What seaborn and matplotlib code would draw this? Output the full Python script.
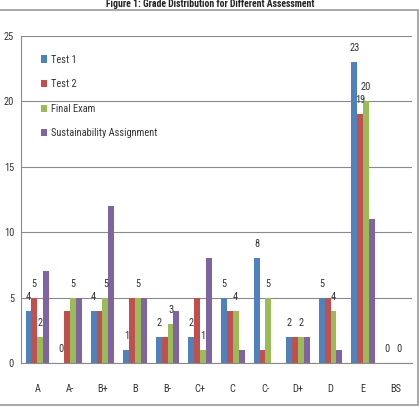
import pandas as pd
import numpy as np
import matplotlib
matplotlib.use("Agg")
import matplotlib.pyplot as plt
import seaborn as sns
from matplotlib import font_manager
from matplotlib.patches import Rectangle
from matplotlib.ticker import FixedLocator

# Grade categories and counts per assessment
grades = ['A', 'A-', 'B+', 'B', 'B-', 'C+', 'C', 'C-', 'D+', 'D', 'E', 'BS']
test1 = [4, 0, 4, 1, 2, 2, 5, 8, 2, 5, 23, 0]
test2 = [5, 4, 4, 5, 2, 5, 4, 1, 2, 5, 19, 0]
final_exam = [2, 5, 5, 5, 3, 1, 4, 5, 2, 4, 20, 0]
sustain = [7, 5, 12, 5, 4, 8, 1, 0, 2, 1, 11, 0]
series_names = ['Test 1', 'Test 2', 'Final Exam', 'Sustainability Assignment']
colors = ['#4F81BD', '#C0504D', '#9BBB59', '#8064A2']
y_ticks = [0, 5, 10, 15, 20, 25]

# which bars carry a data label in the original
labelled = {
    'Test 1': grades,
    'Test 2': ['A', 'E'],
    'Final Exam': grades,
    'Sustainability Assignment': [],
}

sns.set_style("white")

# pick a narrow face if one is installed (the original uses Calibri)
installed = {f.name for f in font_manager.fontManager.ttflist}
narrow = [f for f in ['Liberation Sans Narrow', 'DejaVu Sans Condensed',
                      'Roboto Condensed', 'Open Sans Condensed'] if f in installed]
plt.rcParams['font.family'] = narrow + ['Liberation Sans', 'DejaVu Sans']
if narrow:
    fs = 7.5
else:
    plt.rcParams['font.stretch'] = 'condensed'
    fs = 7

df = pd.DataFrame({
    'Grade': grades * 4,
    'Assessment': np.repeat(series_names, len(grades)),
    'Count': test1 + test2 + final_exam + sustain,
})

fig = plt.figure(figsize=(4.2, 4.12), dpi=100)
ax = fig.add_axes([0.05, 0.119, 0.931, 0.794])

sns.barplot(data=df, x='Grade', y='Count', hue='Assessment', order=grades,
            hue_order=series_names, palette=colors, width=0.72, gap=0,
            linewidth=0, saturation=1, ax=ax)

# data labels above bars
for name, cont in zip(series_names, ax.containers):
    for g, bar in zip(grades, cont):
        if g in labelled[name]:
            h = bar.get_height()
            ax.annotate(f"{int(h)}", (bar.get_x() + bar.get_width() / 2, h),
                        xytext=(0, 10), textcoords='offset points',
                        ha='center', va='center', fontsize=fs, color='#333333')

ax.set_ylim(0, 25)
ax.set_xlim(-0.5, len(grades) - 0.5)
ax.set_yticks(y_ticks)
ax.yaxis.grid(True, color='#8a8a8a', linewidth=0.8)
ax.set_axisbelow(True)
ax.set_xlabel('')
ax.set_ylabel('')

for s in ['top', 'right']:
    ax.spines[s].set_visible(False)
for s in ['left', 'bottom']:
    ax.spines[s].set_color('#8a8a8a')
    ax.spines[s].set_linewidth(0.8)

ax.tick_params(axis='y', length=3, color='#8a8a8a', labelsize=fs,
               labelcolor='#333333', pad=2)
ax.tick_params(axis='x', which='major', length=0, labelsize=fs,
               labelcolor='#333333', pad=15)
ax.xaxis.set_minor_locator(FixedLocator(np.arange(0.5, len(grades) - 0.5, 1)))
ax.tick_params(axis='x', which='minor', length=5, color='#8a8a8a', width=0.8)

ax.legend(loc='upper left', bbox_to_anchor=(0.04, 0.955), frameon=False,
          fontsize=fs, labelspacing=1.4, handlelength=0.6, handleheight=0.7,
          handletextpad=0.4, borderaxespad=0, labelcolor='#333333')

# outer chart border and caption
fig.patches.append(Rectangle((-0.01, 0.017), 1.005, 0.959, transform=fig.transFigure,
                             fill=False, edgecolor='#9a9a9a', linewidth=1.2))
fig.text(0.5, 0.99, 'Figure 1: Grade Distribution for Different Assessment',
         ha='center', va='center', fontsize=7, fontweight='bold', color='#222222')

fig.savefig('out.png', dpi=100)
